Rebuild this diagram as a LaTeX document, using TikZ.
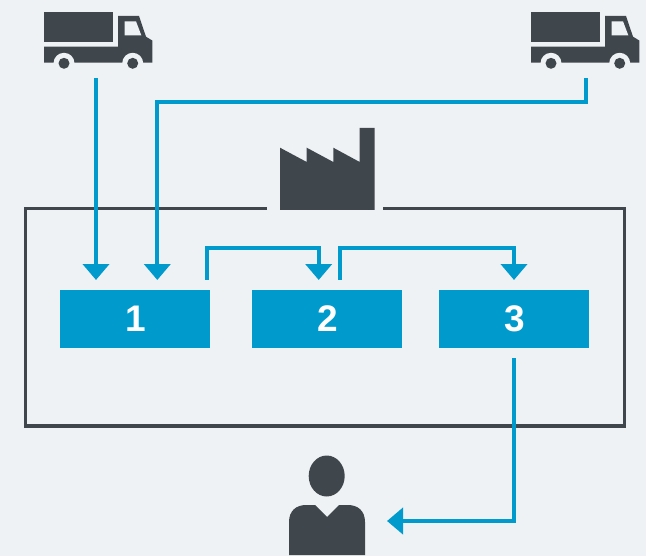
\documentclass[tikz,border=0pt]{standalone}
\usepackage{fontspec}
\setmainfont{Liberation Sans}
\usetikzlibrary{arrows.meta}
\definecolor{bgc}{RGB}{238,242,245}
\definecolor{bluec}{RGB}{0,155,204}
\definecolor{darkc}{RGB}{63,71,77}
\tikzset{
  stepbox/.style={fill=bluec,draw=none,minimum width=150bp,minimum height=58bp,inner sep=0pt,outer sep=0pt,text=white,font=\fontsize{37bp}{37bp}\selectfont\bfseries},
  icon/.style={draw=none,inner sep=0pt,outer sep=0pt},
  flow/.style={draw=bluec,line width=4bp,-{Triangle[length=16bp,width=26bp]}},
  frameline/.style={draw=darkc,line width=3.6bp}
}
\newcommand{\truckshape}[1]{%
  \begin{scope}[shift={(#1,0)}]
    \fill[darkc] (44,12) rectangle (113.3,42);
    \fill[darkc] (44,46.7) -- (118,46.7) -- (118,16) -- (139,16) -- (146,36.7) -- (152.3,40.5) -- (152.3,62.7) -- (44,62.7) -- cycle;
    \fill[bgc] (124.7,21.3) -- (136,21.3) -- (141.3,35.3) -- (124.7,35.3) -- cycle;
    \fill[bgc] (64,63.3) circle (10.5);
    \fill[bgc] (132.7,63.3) circle (10.5);
    \fill[darkc] (64,63.3) circle (5.5);
    \fill[darkc] (132.7,63.3) circle (5.5);
  \end{scope}}
\newcommand{\steplabel}[1]{\raisebox{-1.2bp}{\hspace{1.6bp}#1}}
\begin{document}
\begin{tikzpicture}[x=1bp,y=-1bp]
\fill[bgc] (0,0) rectangle (646,556);
\useasboundingbox (0,0) rectangle (646,556);
% frame
\coordinate (gapL) at (267,208.5);
\coordinate (gapR) at (383,208.5);
\coordinate (frameBL) at (25.3,426);
\coordinate (frameBR) at (624.5,426);
\draw[frameline] (gapL) -- (25.3,208.5) -- (frameBL) -- (frameBR) -- (624.5,208.5) -- (gapR);
% icons
\truckshape{0}
\truckshape{487}
\node[icon,minimum width=104bp,minimum height=66bp] (truckA) at (96,45) {};
\node[icon,minimum width=110bp,minimum height=66bp] (truckB) at (586,45) {};
\fill[darkc] (280,147.7) -- (306.7,162) -- (306.7,147.7) -- (333.3,162) -- (333.3,147.7) -- (359.7,162) -- (359.7,128) -- (374.5,128) -- (374.5,210) -- (280,210) -- cycle;
\node[icon,minimum width=94bp,minimum height=82bp] (factory) at (327,169) {};
\fill[darkc] (326.7,476) ellipse (18 and 20.5);
\fill[darkc] (289,555) -- (289,522) .. controls (289,511) and (296,505) .. (306,505) -- (315,505) -- (327,517) -- (339,505) -- (348,505) .. controls (358,505) and (365,511) .. (365,522) -- (365,555) -- cycle;
\node[icon,minimum width=76bp,minimum height=99bp] (person) at (327,505.5) {};
% boxes
\node[stepbox] (box1) at (135,319) {\steplabel{1}};
\node[stepbox] (box2) at (327,319) {\steplabel{2}};
\node[stepbox] (box3) at (514,319) {\steplabel{3}};
% connector ends
\coordinate (inA) at (96,280);
\coordinate (inB) at (157.3,280);
\coordinate (out1) at (207,280);
\coordinate (in2) at (318.7,280);
\coordinate (out2) at (339.5,280);
\coordinate (in3) at (514,280);
\coordinate (out3) at (514,358);
\coordinate (personIn) at (387,521);
% connectors
\draw[flow] (truckA.south) -- (inA);
\draw[flow] (truckB.south) |- (157.3,102) -- (inB);
\draw[flow] (out1) -- (207,248) -| (in2);
\draw[flow] (out2) -- (339.5,248) -| (in3);
\draw[flow] (out3) |- (personIn);
\end{tikzpicture}
\end{document}
